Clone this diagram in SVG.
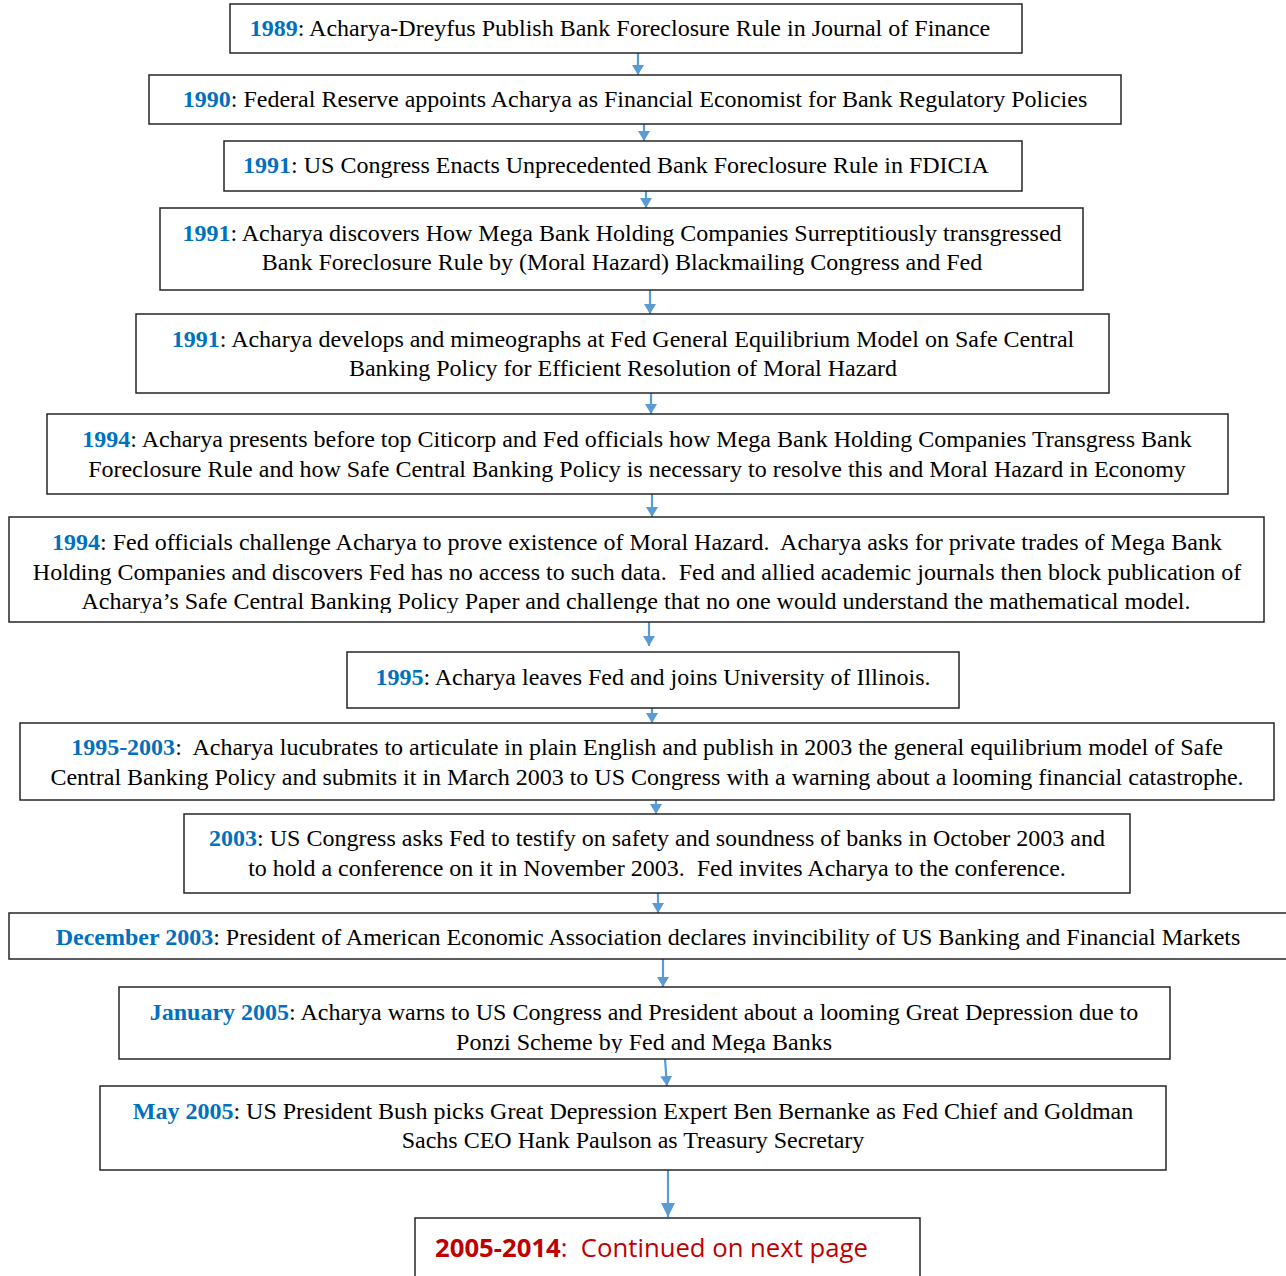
<svg xmlns="http://www.w3.org/2000/svg" width="1286" height="1276" viewBox="0 0 1286 1276">
<style>
.box{fill:#fff;stroke:#262626;stroke-width:1.5}
.t{font-family:"Liberation Serif","Times New Roman",serif;font-size:24px;fill:#000;text-anchor:middle;white-space:pre}
.y{fill:#0070c0;font-weight:bold}
.c{stroke:#5b9bd5;stroke-width:2.2;fill:none}
.r{font-family:"Open Sans","Liberation Sans",sans-serif;font-size:25.7px;fill:#c00000;white-space:pre}
</style>
<defs>
<marker id="ah" viewBox="0 0 10 12" refX="10" refY="6" markerWidth="10" markerHeight="12" markerUnits="userSpaceOnUse" orient="auto">
<path d="M0,0 L10,6 L0,12 Z" fill="#5b9bd5"/>
</marker>
<marker id="ah2" viewBox="0 0 14 14" refX="14" refY="7" markerWidth="14" markerHeight="14" markerUnits="userSpaceOnUse" orient="auto">
<path d="M0,0 L14,7 L0,14 Z" fill="#5b9bd5"/>
</marker>
<clipPath id="c7"><rect x="0" y="517" width="1286" height="96"/></clipPath>
<clipPath id="c12"><rect x="0" y="987" width="1286" height="66"/></clipPath>
</defs>
<rect width="1286" height="1276" fill="#fff"/>
<g id="connectors">
<path class="c" d="M638,53 V75" marker-end="url(#ah)"/>
<path class="c" d="M644,124 V141" marker-end="url(#ah)"/>
<path class="c" d="M646,191 V208" marker-end="url(#ah)"/>
<path class="c" d="M650,290 V314" marker-end="url(#ah)"/>
<path class="c" d="M651,393 V414" marker-end="url(#ah)"/>
<path class="c" d="M652,494 V517" marker-end="url(#ah)"/>
<path class="c" d="M649,622 V646" marker-end="url(#ah)"/>
<path class="c" d="M652,708 V723" marker-end="url(#ah)"/>
<path class="c" d="M656,800 V814" marker-end="url(#ah)"/>
<path class="c" d="M658,893 V913" marker-end="url(#ah)"/>
<path class="c" d="M663,959 V987" marker-end="url(#ah)"/>
<path class="c" d="M665,1059 L667,1086" marker-end="url(#ah)"/>
<path class="c" d="M668,1170 V1217" marker-end="url(#ah2)"/>
</g>
<g id="n1989"><rect class="box" x="230" y="4" width="792" height="49"/>
<text class="t" x="620" y="36"><tspan class="y">1989</tspan>: Acharya-Dreyfus Publish Bank Foreclosure Rule in Journal of Finance</text></g>
<g id="n1990"><rect class="box" x="149" y="75" width="972" height="49"/>
<text class="t" x="635" y="107"><tspan class="y">1990</tspan>: Federal Reserve appoints Acharya as Financial Economist for Bank Regulatory Policies</text></g>
<g id="n1991a"><rect class="box" x="224" y="141" width="798" height="50"/>
<text class="t" x="616" y="173"><tspan class="y">1991</tspan>: US Congress Enacts Unprecedented Bank Foreclosure Rule in FDICIA</text></g>
<g id="n1991b"><rect class="box" x="160" y="208" width="923" height="82"/>
<text class="t" x="622" y="241"><tspan class="y">1991</tspan>: Acharya discovers How Mega Bank Holding Companies Surreptitiously transgressed</text>
<text class="t" x="622" y="270">Bank Foreclosure Rule by (Moral Hazard) Blackmailing Congress and Fed</text></g>
<g id="n1991c"><rect class="box" x="136" y="314" width="973" height="79"/>
<text class="t" x="623" y="347"><tspan class="y">1991</tspan>: Acharya develops and mimeographs at Fed General Equilibrium Model on Safe Central</text>
<text class="t" x="623" y="376">Banking Policy for Efficient Resolution of Moral Hazard</text></g>
<g id="n1994a"><rect class="box" x="47" y="414" width="1181" height="80"/>
<text class="t" x="637" y="447"><tspan class="y">1994</tspan>: Acharya presents before top Citicorp and Fed officials how Mega Bank Holding Companies Transgress Bank</text>
<text class="t" x="637" y="477">Foreclosure Rule and how Safe Central Banking Policy is necessary to resolve this and Moral Hazard in Economy</text></g>
<g id="n1994b"><rect class="box" x="9" y="517" width="1255" height="105"/>
<g clip-path="url(#c7)">
<text class="t" x="637" y="550"><tspan class="y">1994</tspan>: Fed officials challenge Acharya to prove existence of Moral Hazard.  Acharya asks for private trades of Mega Bank</text>
<text class="t" x="637" y="580">Holding Companies and discovers Fed has no access to such data.  Fed and allied academic journals then block publication of</text>
<text class="t" x="636" y="609">Acharya’s Safe Central Banking Policy Paper and challenge that no one would understand the mathematical model.</text></g></g>
<g id="n1995"><rect class="box" x="347" y="652" width="612" height="56"/>
<text class="t" x="653" y="685"><tspan class="y">1995</tspan>: Acharya leaves Fed and joins University of Illinois.</text></g>
<g id="n1995-2003"><rect class="box" x="20" y="723" width="1254" height="77"/>
<text class="t" x="647" y="755"><tspan class="y">1995-2003</tspan>:  Acharya lucubrates to articulate in plain English and publish in 2003 the general equilibrium model of Safe</text>
<text class="t" x="647" y="785">Central Banking Policy and submits it in March 2003 to US Congress with a warning about a looming financial catastrophe.</text></g>
<g id="n2003"><rect class="box" x="184" y="814" width="946" height="79"/>
<text class="t" x="657" y="846"><tspan class="y">2003</tspan>: US Congress asks Fed to testify on safety and soundness of banks in October 2003 and</text>
<text class="t" x="657" y="876">to hold a conference on it in November 2003.  Fed invites Acharya to the conference.</text></g>
<g id="nDec2003"><rect class="box" x="9" y="913" width="1290" height="46"/>
<text class="t" x="648" y="945"><tspan class="y">December 2003</tspan>: President of American Economic Association declares invincibility of US Banking and Financial Markets</text></g>
<g id="nJan2005"><rect class="box" x="119" y="987" width="1051" height="72"/>
<g clip-path="url(#c12)">
<text class="t" x="644" y="1020"><tspan class="y">January 2005</tspan>: Acharya warns to US Congress and President about a looming Great Depression due to</text>
<text class="t" x="644" y="1050">Ponzi Scheme by Fed and Mega Banks</text></g></g>
<g id="nMay2005"><rect class="box" x="100" y="1086" width="1066" height="84"/>
<text class="t" x="633" y="1119"><tspan class="y">May 2005</tspan>: US President Bush picks Great Depression Expert Ben Bernanke as Fed Chief and Goldman</text>
<text class="t" x="633" y="1148">Sachs CEO Hank Paulson as Treasury Secretary</text></g>
<g id="n2005-2014"><rect class="box" x="415" y="1218" width="505" height="70"/>
<text class="r" x="435" y="1257"><tspan font-weight="bold">2005-2014</tspan>:  Continued on next page</text></g>
</svg>
